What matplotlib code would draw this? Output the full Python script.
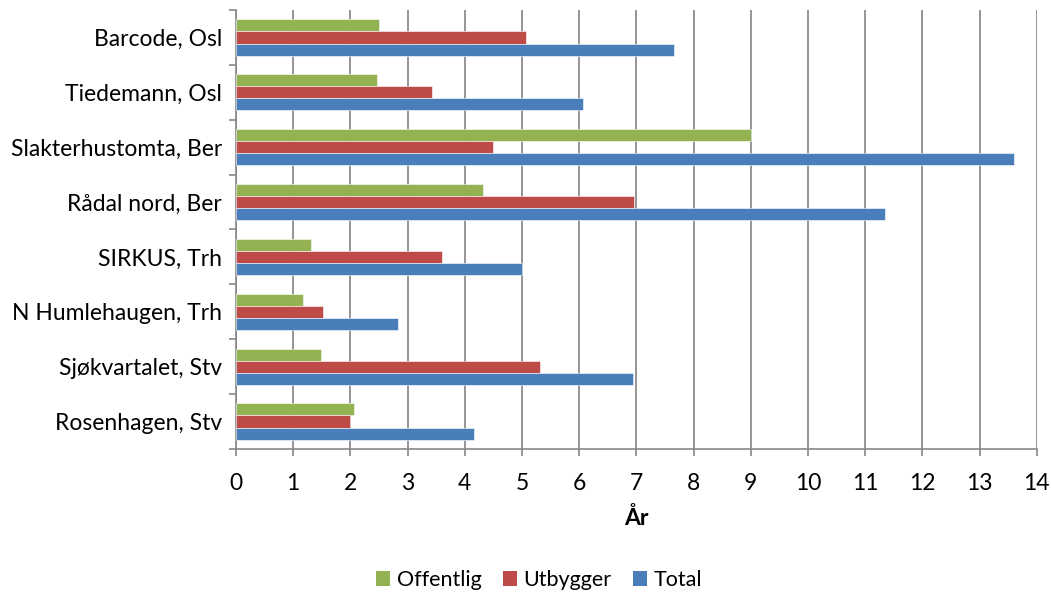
import numpy as np
import matplotlib.pyplot as plt
from matplotlib.patches import Patch

plt.rcParams['font.family'] = ['Lato', 'DejaVu Sans']

prosjekter = ['Barcode, Osl', 'Tiedemann, Osl', 'Slakterhustomta, Ber', 'Rådal nord, Ber',
              'SIRKUS, Trh', 'N Humlehaugen, Trh', 'Sjøkvartalet, Stv', 'Rosenhagen, Stv']
offentlig = [2.50, 2.46, 9.0, 4.32, 1.32, 1.17, 1.49, 2.06]
utbygger = [5.07, 3.42, 4.49, 6.96, 3.61, 1.53, 5.31, 2.0]
total = [7.66, 6.06, 13.6, 11.35, 5.0, 2.83, 6.94, 4.16]

serier = ['Offentlig', 'Utbygger', 'Total']
farger = ['#93B251', '#BE4B48', '#4A7EBB']
fs = 16.5

fig = plt.figure(figsize=(10.51, 5.93), dpi=100)
ax = fig.add_axes([0.2245, 0.243, 0.762, 0.740])

y = np.arange(len(prosjekter))
h = 0.22
for i, (verdier, farge) in enumerate(zip([offentlig, utbygger, total], farger)):
    ax.barh(y + (i - 1) * h, verdier, height=h, color=farge,
            edgecolor='white', linewidth=0.4, zorder=3)

ax.set_ylim(len(prosjekter) - 0.5, -0.5)
ax.set_yticks(y)
ax.set_yticklabels(prosjekter, fontsize=fs)
ax.set_yticks(np.arange(-0.5, len(prosjekter)), minor=True)
ax.tick_params(axis='y', which='major', length=0, pad=10)
ax.tick_params(axis='y', which='minor', length=5, color='#888888', width=1.2)

ax.set_xlim(0, 14)
ax.set_xticks(range(0, 15))
ax.tick_params(axis='x', labelsize=fs, length=5, color='#888888', width=1.2, pad=12)
ax.grid(axis='x', color='#8c8c8c', linewidth=1.3, zorder=0)
ax.set_xlabel('År', fontsize=fs, fontweight='bold', labelpad=10)

for s in ['top', 'right']:
    ax.spines[s].set_visible(False)
for s in ['left', 'bottom']:
    ax.spines[s].set_color('#888888')
    ax.spines[s].set_linewidth(1.2)

handles = [Patch(facecolor=f, label=s) for s, f in zip(serier, farger)]
fig.legend(handles=handles, loc='center', bbox_to_anchor=(0.513, 0.022), ncol=3,
           frameon=False, fontsize=15.5, handlelength=0.65, handleheight=0.65,
           handletextpad=0.3, columnspacing=1.0)

fig.savefig('out.png', dpi=100)
